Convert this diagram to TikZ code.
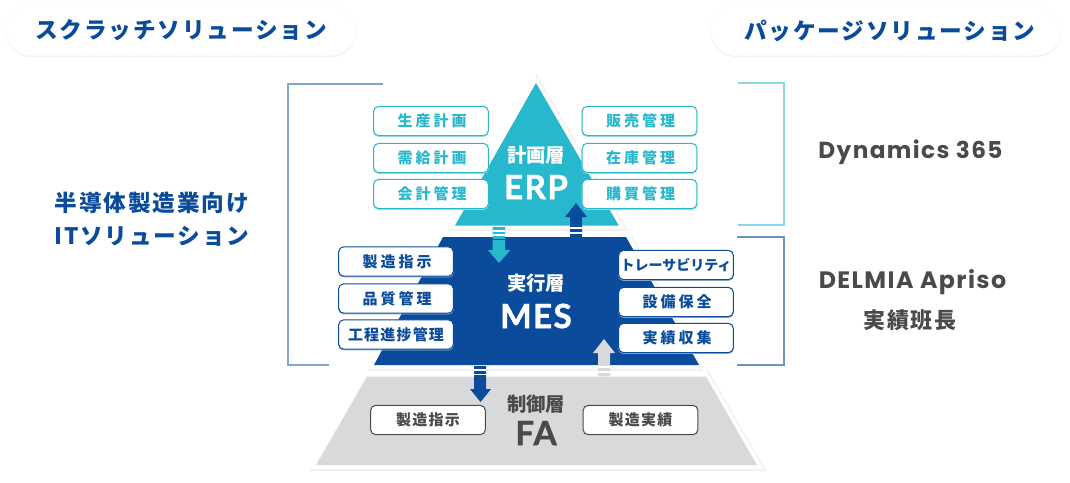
\documentclass[tikz,border=0pt]{standalone}
\usepackage{fontspec}
\newfontfamily\jp[LetterSpace=20]{Noto Sans CJK JP}
\newfontfamily\jpt[LetterSpace=8]{Noto Sans CJK JP}
\newfontfamily\jpn{Noto Sans CJK JP}
\newfontfamily\lat[LetterSpace=6]{Poppins}
\newfontfamily\latb[LetterSpace=4,BoldFeatures={FakeBold=1.2}]{Lato}
\definecolor{cy}{HTML}{28B8CD}
\definecolor{nv}{HTML}{0A4C9B}
\definecolor{gy}{HTML}{D8D9DB}
\definecolor{tx}{HTML}{4A4A4A}
\definecolor{halo}{HTML}{F1F2F3}
\tikzset{
  x=0.75pt,y=-0.75pt,
  tag/.style={rounded corners=3.75pt,minimum width=86pt,minimum height=22pt,inner sep=0pt,fill=white,line width=0.75pt,
    text height=11pt,text depth=2.4pt,
    font=\fontsize{11.25}{13}\selectfont\jp\bfseries},
  ctag/.style={tag,draw=cy,text=cy,preaction={draw=cy!45,transform canvas={yshift=-0.6pt}}},
  ntag/.style={tag,draw=nv,text=nv,preaction={draw=nv!45,transform canvas={yshift=-0.6pt}}},
  gtag/.style={tag,draw=tx,text=tx,font=\fontsize{11.25}{13}\selectfont\jpt\bfseries},
  pill/.style={rounded corners=19pt,minimum width=262pt,minimum height=37pt,inner sep=0pt,fill=white,draw=white,line width=0.75pt,
    preaction={draw=halo,line width=1.5pt,transform canvas={yshift=-0.8pt}},
    text=nv,font=\fontsize{17}{20}\selectfont\jpt\bfseries},
  side/.style={inner sep=0pt,text=nv,align=center,font=\fontsize{17}{24.75}\selectfont\jpt\bfseries},
  prod/.style={inner sep=0pt,text=tx,align=center,font=\fontsize{17.4}{20}\selectfont\lat\bfseries},
  prodjp/.style={inner sep=0pt,text=tx,font=\fontsize{16.5}{19}\selectfont\jpt\bfseries},
  layerj/.style={inner sep=0pt,font=\fontsize{14.5}{17}\selectfont\jpn\bfseries},
  layerl/.style={inner sep=0pt,font=\fontsize{25}{28}\selectfont\latb\bfseries},
  brk/.style={line width=1pt},
  stripe/.style={white,line width=0.9pt},
  haloline/.style={draw=halo,line width=1.2pt}
}
\begin{document}
\begin{tikzpicture}
\useasboundingbox (0,0) rectangle (1070,482);
% brackets
\draw[brk,draw=nv!50] (383,84) -- (288,84) -- (288,365) -- (329,365);
\draw[brk,draw=cy!55] (738,83) -- (784,83) -- (784,225) -- (738,225);
\draw[brk,draw=nv!60] (737,237) -- (784,237) -- (784,365) -- (737,365);
% halos
\draw[haloline] (536,75) -- (627,230) -- (448,230);
\draw[haloline] (632,237) -- (702,370) -- (368,370);
\draw[haloline] (707,370) -- (765,470) -- (310,470);
% pyramid
\fill[cy] (536,83) -- (618.7,225.5) -- (455,225.5) -- cycle;
\fill[nv] (443,237) -- (626,237) -- (699,365) -- (374,365) -- cycle;
\fill[gy] (367,376.5) -- (706,376.5) -- (757,465) -- (316,465) -- cycle;
% pills
\node[pill] (pillL) at (181,30.5) {スクラッチソリューション};
\node[pill,xshift=0pt] (pillR) at (886,30.5) {\hspace*{6pt}パッケージソリューション};
% side text
\node[side] (it) at (152,219.5) {半導体製造業向け\\ITソリューション};
\node[prod] (dyn) at (910.5,152) {Dynamics 365};
\node[prod,font=\fontsize{17.8}{20}\selectfont\lat\bfseries] (del) at (912.5,282) {DELMIA Apriso};
\node[prodjp] (han) at (910,320) {実績班長};
% layer labels
\node[layerj,text=white] (l1) at (536,155) {計画層};
\node[layerl,text=white] (e1) at (536,187) {ERP};
\node[layerj,text=white] (l2) at (536,283) {実行層};
\node[layerl,text=white] (e2) at (536,316) {MES};
\node[layerj,text=tx] (l3) at (536,404) {制御層};
\node[layerl,text=tx] (e3) at (536,433) {FA};
% tags
\node[ctag] (a1) at (431,121) {\hspace*{1.5pt}生産計画};
\node[ctag] (a2) at (431,158) {\hspace*{1.5pt}需給計画};
\node[ctag] (a3) at (431,194) {\hspace*{1.5pt}会計管理};
\node[ctag] (b1) at (639.5,121) {\hspace*{1.5pt}販売管理};
\node[ctag] (b2) at (639.5,158) {\hspace*{1.5pt}在庫管理};
\node[ctag] (b3) at (639.5,194) {\hspace*{1.5pt}購買管理};
\node[ntag] (c1) at (396,261.5) {\hspace*{1.5pt}製造指示};
\node[ntag] (c2) at (396,298.5) {\hspace*{1.5pt}品質管理};
\node[ntag] (c3) at (396,334.5) {\fontsize{11.25}{13}\selectfont\jpt\bfseries 工程進捗管理};
\node[ntag] (d1) at (676,265) {\fontsize{10.5}{13}\selectfont\jpn\bfseries トレーサビリティ};
\node[ntag] (d2) at (676,302) {\hspace*{1.5pt}設備保全};
\node[ntag] (d3) at (676,338) {\hspace*{1.5pt}実績収集};
\node[gtag] (f1) at (428,420) {製造指示};
\node[gtag] (f2) at (640.5,420) {製造実績};
% block arrows
\fill[cy] (492.7,227) -- (505,227) -- (505,250) -- (510.5,250) -- (499,263) -- (488,250) -- (492.7,250) -- cycle;
\draw[stripe] (492.7,231) -- (505,231) (492.7,235) -- (505,235);
\draw[nv,line width=0.6pt] (492.7,239.5) -- (505,239.5);
\fill[nv] (570,217) -- (565,217) -- (576,203) -- (587,217) -- (582,217) -- (582,237) -- (570,237) -- cycle;
\draw[stripe] (570,228) -- (582,228) (570,233) -- (582,233);
\fill[nv] (474,366) -- (486,366) -- (486,389) -- (491,389) -- (480.5,402) -- (470,389) -- (474,389) -- cycle;
\draw[stripe] (474,370) -- (486,370) (474,374.5) -- (486,374.5);
\fill[gy] (598,353) -- (593,353) -- (604,339) -- (615,353) -- (610,353) -- (610,376) -- (598,376) -- cycle;
\draw[stripe] (598,367) -- (610,367) (598,372) -- (610,372);
\end{tikzpicture}
\end{document}
